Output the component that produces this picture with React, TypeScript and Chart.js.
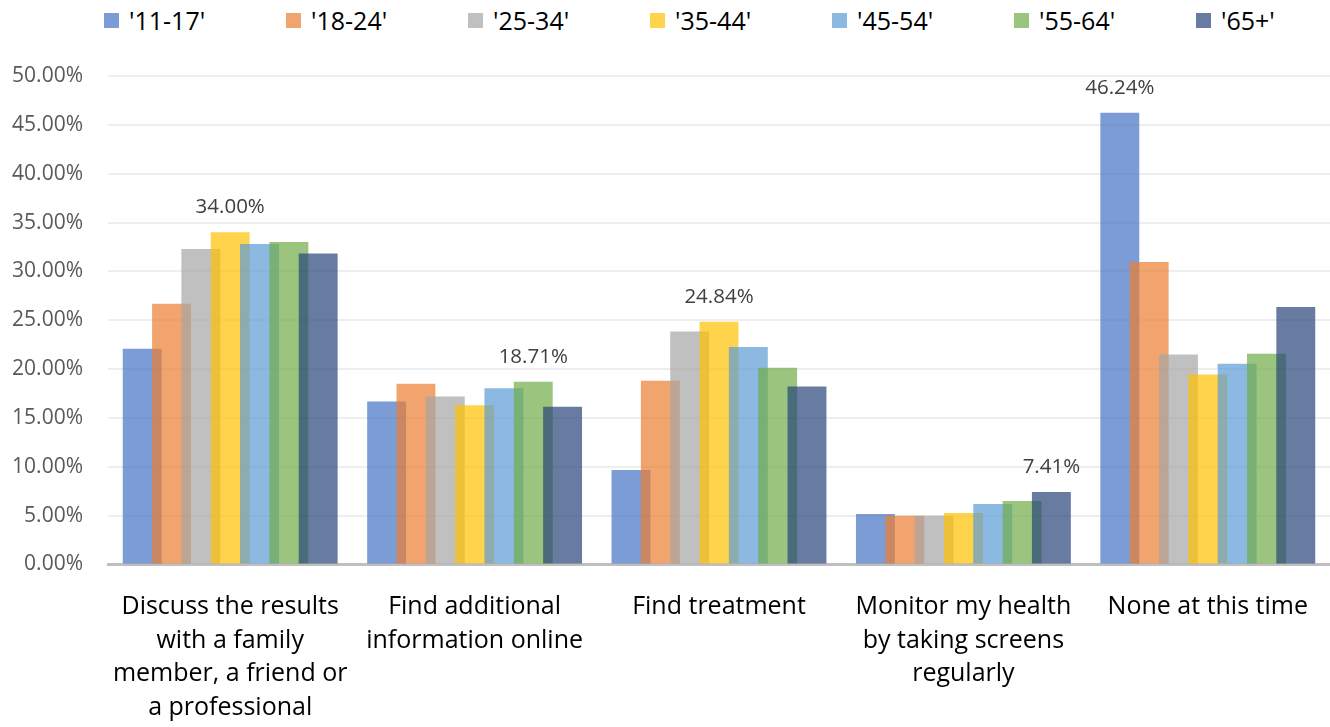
import React, { useEffect, useRef } from "react";
import { Chart, registerables } from "chart.js";

Chart.register(...registerables);

const categories: string[][] = [
  ["Discuss the results", "with a family", "member, a friend or", "a professional"],
  ["Find additional", "information online"],
  ["Find treatment"],
  ["Monitor my health", "by taking screens", "regularly"],
  ["None at this time"],
];

const seriesNames = ["'11-17'", "'18-24'", "'25-34'", "'35-44'", "'45-54'", "'55-64'", "'65+'"];

const values11to17 = [22.08, 16.68, 9.68, 5.17, 46.24];
const values18to24 = [26.69, 18.49, 18.8, 4.99, 30.96];
const values25to34 = [32.3, 17.19, 23.85, 4.99, 21.5];
const values35to44 = [34.0, 16.31, 24.84, 5.26, 19.45];
const values45to54 = [32.8, 18.05, 22.25, 6.18, 20.54];
const values55to64 = [33.0, 18.71, 20.13, 6.49, 21.57];
const values65plus = [31.84, 16.14, 18.22, 7.41, 26.35];

const seriesValues = [values11to17, values18to24, values25to34, values35to44, values45to54, values55to64, values65plus];

const seriesColors = [
  "rgba(68,114,196,0.7)",
  "rgba(237,125,49,0.7)",
  "rgba(165,165,165,0.7)",
  "rgba(255,192,0,0.7)",
  "rgba(91,155,213,0.7)",
  "rgba(112,173,71,0.7)",
  "rgba(38,68,120,0.7)",
];

const yMin = 0;
const yMax = 50;
const yStep = 5;

export default function App() {
  const canvasRef = useRef<HTMLCanvasElement>(null);

  useEffect(() => {
    if (!canvasRef.current) return;

    const drawInOrder = {
      id: "drawInOrder",
      beforeDatasetsDraw(chart: any) {
        const n = chart.data.datasets.length;
        for (let i = 0; i < n; i++) {
          const meta = chart.getDatasetMeta(i);
          if (!meta.hidden) meta.controller.draw();
        }
        return false;
      },
    };

    const maxLabels = {
      id: "maxLabels",
      afterDraw(chart: any) {
        const ctx = chart.ctx;
        ctx.save();
        ctx.font = '20.5px "Open Sans"';
        ctx.fillStyle = "#404040";
        ctx.textAlign = "center";
        ctx.textBaseline = "middle";
        categories.forEach((_, ci) => {
          let best = 0;
          seriesValues.forEach((s, si) => {
            if (s[ci] > seriesValues[best][ci]) best = si;
          });
          const el = chart.getDatasetMeta(best).data[ci];
          ctx.fillText(seriesValues[best][ci].toFixed(2) + "%", el.x, el.y - 25);
        });
        ctx.restore();
      },
    };

    const chart = new Chart(canvasRef.current, {
      type: "bar",
      data: {
        labels: categories,
        datasets: seriesNames.map((name, i) => ({
          label: name,
          data: seriesValues[i],
          backgroundColor: seriesColors[i],
          borderWidth: 0,
          categoryPercentage: 0.84,
          barPercentage: 1.327,
        })),
      },
      options: {
        animation: false,
        responsive: true,
        maintainAspectRatio: false,
        layout: { padding: { top: 76, right: 0, left: 0, bottom: 0 } },
        plugins: {
          legend: { display: false },
          tooltip: { enabled: false },
        },
        scales: {
          x: {
            grid: { display: false },
            border: { display: true, color: "#BFBFBF", width: 3 },
            ticks: {
              color: "#000000",
              padding: 18,
              maxRotation: 0,
              autoSkip: false,
              font: { family: '"Open Sans"', size: 25, lineHeight: "33.5px" },
            },
            afterFit(scale: any) {
              scale.height = 162.5;
            },
          },
          y: {
            min: yMin,
            max: yMax,
            border: { display: false },
            grid: { color: "#EEEEEE", lineWidth: 2, drawTicks: false },
            ticks: {
              stepSize: yStep,
              color: "#595959",
              padding: 25,
              font: { family: '"Open Sans"', size: 21 },
              callback: (v: any) => Number(v).toFixed(2) + "%",
            },
            afterFit(scale: any) {
              scale.width = 108;
            },
          },
        },
      },
      plugins: [drawInOrder, maxLabels],
    });

    return () => chart.destroy();
  }, []);

  return (
    <div style={{ position: "fixed", left: 0, top: 0, width: 1330, height: 727, background: "#fff" }}>
      <div style={{ position: "absolute", left: 104, top: 0, height: 40, display: "flex", alignItems: "center" }}>
        {seriesNames.map((name, i) => (
          <div key={name} style={{ width: 182, display: "flex", alignItems: "center" }}>
            <span style={{ display: "inline-block", width: 15, height: 15, background: seriesColors[i], marginRight: 10 }} />
            <span style={{ fontFamily: '"Open Sans"', fontSize: 25, color: "#000", lineHeight: "30px" }}>{name}</span>
          </div>
        ))}
      </div>
      <canvas ref={canvasRef} style={{ position: "absolute", left: 0, top: 0, width: 1330, height: 727 }} />
    </div>
  );
}
